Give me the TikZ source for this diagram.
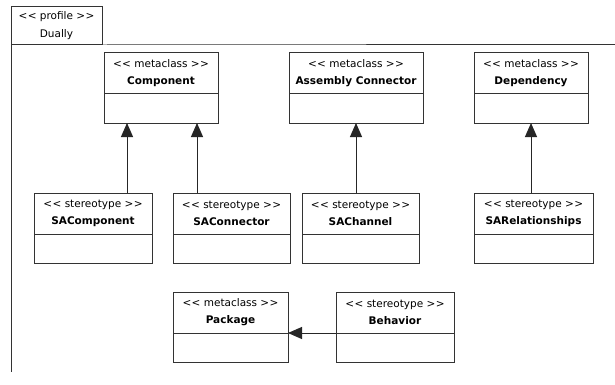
\documentclass[tikz,border=0pt]{standalone}
\usepackage{fontspec}
\setmainfont{DejaVu Sans}
\usetikzlibrary{arrows.meta, positioning}
\newcommand{\sopen}{<\kern0.4pt<}
\newcommand{\sclose}{>\kern0.4pt>}
\tikzset{
  classhead/.style={draw=black!80, fill=white, line width=1pt, anchor=north west,
                    minimum height=41pt, align=center, inner sep=1pt, outer sep=0pt,
                    font=\fontsize{10.5}{17}\selectfont},
  classbody/.style={draw=black!80, fill=white, line width=1pt, minimum height=29pt,
                    inner sep=0pt, outer sep=0pt},
  profiletab/.style={draw=black!80, line width=1pt, anchor=north west, minimum width=91pt,
                     minimum height=38pt, align=center, inner sep=1pt, outer sep=0pt,
                     font=\fontsize{10.5}{18}\selectfont},
  genarrow/.style={-{Triangle[length=14pt,width=12pt]}, line width=1pt, draw=black!85}
}

\begin{document}
\begin{tikzpicture}[x=1pt, y=-1pt]
    \fill[white] (0,0) rectangle (615,385);
    \useasboundingbox (0,0) rectangle (615,385);
    \node[profiletab] (tab) at (11,7) {\sopen\ profile \sclose\\Dually};
    \coordinate (frameend) at (615,45);
    \coordinate (framefoot) at (11,372);
    \draw[line width=1pt, draw=black!80] (frameend) -- (tab.south east) -- (tab.south west) -- (framefoot);

    \node[classhead, minimum width=114pt] (comp) at (104,53) {\sopen\ metaclass \sclose\\\textbf{Component}};
    \node[classbody, minimum width=114pt, below=0pt of comp] (comp-b) {};
    \node[classhead, minimum width=134pt] (asm) at (289,53) {\sopen\ metaclass \sclose\\\textbf{Assembly Connector}};
    \node[classbody, minimum width=134pt, below=0pt of asm] (asm-b) {};
    \node[classhead, minimum width=114pt] (dep) at (474,53) {\sopen\ metaclass \sclose\\\textbf{Dependency}};
    \node[classbody, minimum width=114pt, below=0pt of dep] (dep-b) {};

    \node[classhead, minimum width=118pt] (sacomp) at (34,193) {\sopen\ stereotype \sclose\\\textbf{SAComponent}};
    \node[classbody, minimum width=118pt, below=0pt of sacomp] (sacomp-b) {};
    \node[classhead, minimum width=117pt] (saconn) at (173,193) {\sopen\ stereotype \sclose\\\textbf{SAConnector}};
    \node[classbody, minimum width=117pt, below=0pt of saconn] (saconn-b) {};
    \node[classhead, minimum width=117pt] (sachan) at (302,193) {\sopen\ stereotype \sclose\\\textbf{SAChannel}};
    \node[classbody, minimum width=117pt, below=0pt of sachan] (sachan-b) {};
    \node[classhead, minimum width=119pt] (sarel) at (474,193) {\sopen\ stereotype \sclose\\\textbf{SARelationships}};
    \node[classbody, minimum width=119pt, below=0pt of sarel] (sarel-b) {};

    \node[classhead, minimum width=115pt] (pkg) at (173,292) {\sopen\ metaclass \sclose\\\textbf{Package}};
    \node[classbody, minimum width=115pt, below=0pt of pkg] (pkg-b) {};
    \node[classhead, minimum width=118pt] (beh) at (336,292) {\sopen\ stereotype \sclose\\\textbf{Behavior}};
    \node[classbody, minimum width=118pt, below=0pt of beh] (beh-b) {};

    \draw[genarrow] ([xshift=-25pt]sacomp.north east) -- ([xshift=-25pt]sacomp.north east |- comp-b.south);
    \draw[genarrow] ([xshift=24pt]saconn.north west) -- ([xshift=24pt]saconn.north west |- comp-b.south);
    \draw[genarrow] (sachan.north -| asm-b.south) -- (asm-b.south);
    \draw[genarrow] (sarel.north -| dep-b.south) -- (dep-b.south);
    \draw[genarrow] (beh.south west) -- (pkg.south east);
  \end{tikzpicture}
\end{document}
